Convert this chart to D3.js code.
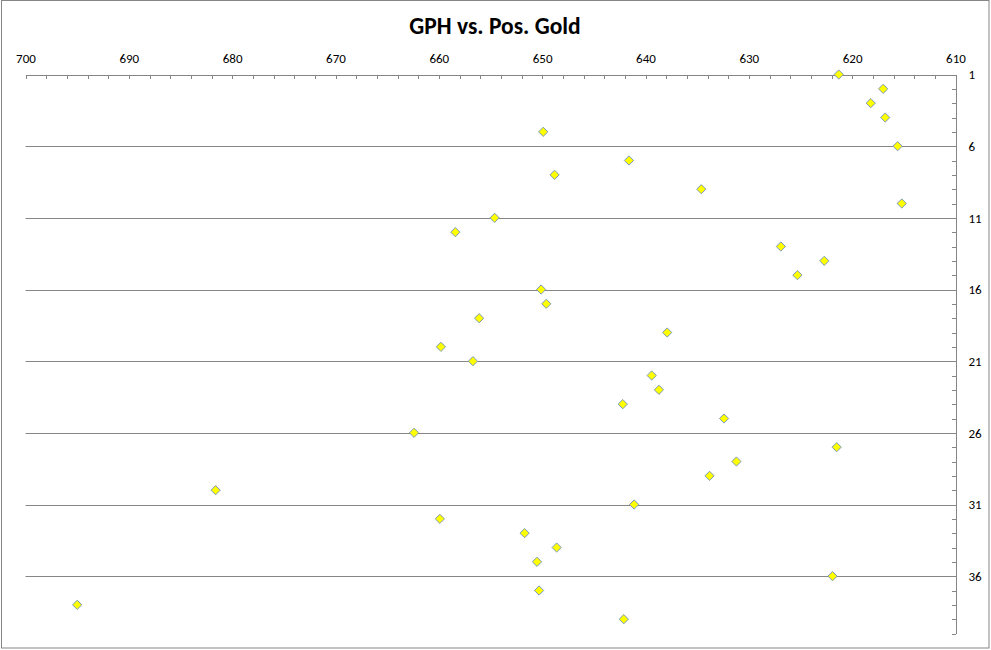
<!DOCTYPE html>
<html>
<head>
<meta charset="utf-8">
<script src="https://cdn.jsdelivr.net/npm/d3@7"></script>
<style>
  html, body { margin: 0; padding: 0; background: #fff; }
  svg { display: block; }
  .axis path, .axis line { stroke: #868686; shape-rendering: crispEdges; }
</style>
</head>
<body>
<script>
const title = "GPH vs. Pos. Gold";
const positions = [1,2,3,4,5,6,7,8,9,10,11,12,13,14,15,16,17,18,19,20,21,22,23,24,25,26,27,28,29,30,31,32,33,34,35,36,37,38,39];
const gph = [621.3,617.0,618.2,616.8,649.9,615.6,641.6,648.8,634.6,615.2,
             654.6,658.4,626.9,622.7,625.3,650.1,649.6,656.1,637.9,659.8,
             656.7,639.4,638.7,642.2,632.4,662.4,621.5,631.2,633.8,681.6,
             641.1,659.9,651.7,648.6,650.5,621.9,650.3,695.0,642.1];
const xDomain = [700, 610];
const yDomain = [1, 40];
const xTickLabels = [700,690,680,670,660,650,640,630,620,610];
const yTickLabels = [1,6,11,16,21,26,31,36];

const FONT = "Carlito, Calibri, Lato, 'Open Sans', sans-serif";
const W = 991, H = 650;
const svg = d3.select("body").append("svg").attr("width", W).attr("height", H);

// outer border
svg.append("rect").attr("x", 1.5).attr("y", 0.5).attr("width", 987.5).attr("height", 647.5)
  .attr("fill", "#fff").attr("stroke", "#868686").attr("stroke-width", 1);

const pLeft = 25.5, pRight = 955.5, pTop = 74.5, pBottom = 633.5;
const x = d3.scaleLinear().domain(xDomain).range([pLeft, pRight]);
const y = d3.scaleLinear().domain(yDomain).range([pTop, pBottom]);

// title
svg.append("text").attr("x", 495).attr("y", 34).attr("text-anchor", "middle")
  .style("font-family", FONT)
  .style("font-weight", "bold").style("font-size", "23.5px").text(title);

// gridlines
svg.append("g").selectAll("line").data(yTickLabels.filter(d => d !== 1)).join("line")
  .attr("x1", pLeft).attr("x2", pRight)
  .attr("y1", d => Math.round(y(d)) + 0.5).attr("y2", d => Math.round(y(d)) + 0.5)
  .attr("stroke", "#868686").attr("stroke-width", 1);

// top x axis
const xTicks = d3.range(700, 609, -2);
const xAxis = d3.axisTop(x).tickValues(xTicks).tickSizeInner(-4).tickSizeOuter(0).tickPadding(12)
  .tickFormat(d => xTickLabels.includes(d) ? String(d) : "");
const gx = svg.append("g").attr("class", "axis").attr("transform", `translate(0,${pTop})`).call(xAxis);
gx.attr("font-size", null).attr("font-family", null);
gx.selectAll("text").attr("dy", "0em").attr("y", -12)
  .style("font-family", FONT).style("font-size", "13px").style("fill", "#000");

// right y axis
const yTicks = d3.range(1, 41, 1);
const yAxis = d3.axisRight(y).tickValues(yTicks).tickSizeInner(-4).tickSizeOuter(0).tickPadding(12)
  .tickFormat(d => yTickLabels.includes(d) ? String(d) : "");
const gy = svg.append("g").attr("class", "axis").attr("transform", `translate(${pRight},0)`).call(yAxis);
gy.attr("font-size", null).attr("font-family", null);
gy.selectAll("text").attr("x", 13)
  .style("font-family", FONT).style("font-size", "13px").style("fill", "#000");

// points (diamonds)
const sym = d3.symbol().type(d3.symbolDiamond2).size(54);
svg.append("g").selectAll("path").data(positions.map((p, i) => ({p, v: gph[i]}))).join("path")
  .attr("transform", d => `translate(${x(d.v)},${y(d.p)})`)
  .attr("d", sym)
  .attr("fill", "#ffff00").attr("stroke", "#7a99b8").attr("stroke-width", 1);
</script>
</body>
</html>
